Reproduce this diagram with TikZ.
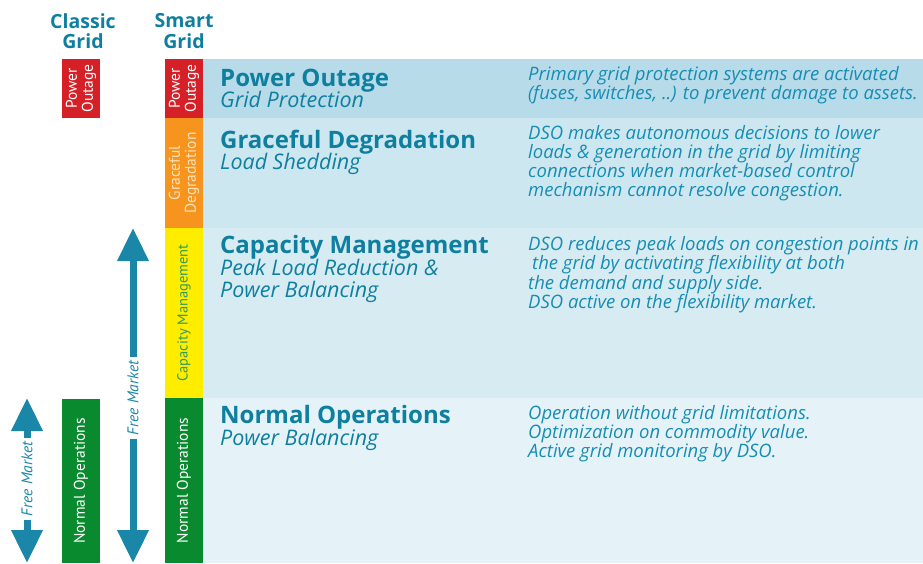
\documentclass[tikz,border=0pt]{standalone}
\usepackage{fontspec}
\setmainfont{Open Sans}
\newfontfamily\narrowfont{PT Sans}
\usetikzlibrary{arrows.meta}

\definecolor{gridred}{HTML}{D52027}
\definecolor{gridorange}{HTML}{F7941D}
\definecolor{gridyellow}{HTML}{FFED00}
\definecolor{gridgreen}{HTML}{0A8A2E}
\definecolor{bandone}{HTML}{B7DBE9}
\definecolor{bandtwo}{HTML}{CDE7F0}
\definecolor{bandthree}{HTML}{D7EBF2}
\definecolor{bandfour}{HTML}{E5F3F9}
\definecolor{gridteal}{HTML}{0E7F9F}
\definecolor{descteal}{HTML}{168DB3}
\definecolor{arrowteal}{HTML}{1A86A8}
\definecolor{peach}{HTML}{FDE3BF}
\definecolor{capgreen}{HTML}{2F9A5A}

\begin{document}
\begin{tikzpicture}[
        x=1pt, y=-1pt,
        colhead/.style={font=\bfseries\fontsize{19.5}{20.5}\selectfont, text=gridteal, align=center, inner sep=0pt},
        levelbar/.style={rotate=90, minimum height=38pt, inner sep=0pt, align=center,
            font=\narrowfont\fontsize{15.5}{16}\selectfont, text=white},
        band/.style={minimum width=720pt, inner sep=0pt, anchor=north west},
        leveltitle/.style={font=\bfseries\fontsize{24}{26}\selectfont, text=gridteal, anchor=base west, inner sep=0pt},
        subtitle/.style={font=\itshape\fontsize{21.5}{22}\selectfont, text=gridteal, anchor=base west, inner sep=0pt},
        desc/.style={font=\itshape\fontsize{18.5}{18.5}\selectfont, text=descteal, anchor=north west,
            inner sep=0pt, align=left},
        market/.style={rotate=90, font=\narrowfont\itshape\fontsize{15.5}{16}\selectfont, text=arrowteal, inner sep=0pt},
        bigarrow/.style={draw=arrowteal, line width=7pt, shorten <=4pt, -{Triangle[width=30pt, length=33pt]}}
    ]
        \useasboundingbox (0,0) rectangle (923,563);

        % column heads
        \node[colhead] (classic) at (83,31) {Classic\\Grid};
        \node[colhead] (smart) at (184,31) {Smart\\Grid};

        % bands
        \node[band, fill=bandone, minimum height=59pt] (b1) at (203,59) {};
        \node[band, fill=bandtwo, minimum height=110pt] (b2) at (203,118) {};
        \node[band, fill=bandthree, minimum height=170pt] (b3) at (203,228) {};
        \node[band, fill=bandfour, minimum height=165pt] (b4) at (203,398) {};

        % classic grid column
        \node[levelbar, fill=gridred, minimum width=59pt] (cpo) at (81,88.5) {Power\\Outage};
        \node[levelbar, fill=gridgreen, minimum width=164pt] (cno) at (81,481) {Normal Operations};

        % smart grid column
        \node[levelbar, fill=gridred, minimum width=59pt] (spo) at (184,88.5) {Power\\Outage};
        \node[levelbar, fill=gridorange, minimum width=110pt, text=peach] (sgd) at (184,173) {Graceful\\Degradation};
        \node[levelbar, fill=gridyellow, minimum width=170pt, text=capgreen, font=\narrowfont\fontsize{14.5}{15}\selectfont] (scm) at (184,313) {Capacity Management};
        \node[levelbar, fill=gridgreen, minimum width=165pt] (sno) at (184,480.5) {Normal Operations};

        % free market arrows
        \coordinate (fm1top) at (27,398);
        \coordinate (fm1bot) at (27,563);
        \node[market] (fm1) at (27,479) {Free Market};
        \draw[bigarrow] (fm1.east) -- (fm1top);
        \draw[bigarrow] (fm1.west) -- (fm1bot);

        \coordinate (fm2top) at (133,228);
        \coordinate (fm2bot) at (133,563);
        \node[market] (fm2) at (133,398) {Free Market};
        \draw[bigarrow] (fm2.east) -- (fm2top);
        \draw[bigarrow] (fm2.west) -- (fm2bot);

        % power outage
        \node[leveltitle] (t1) at (220,86) {Power Outage};
        \node[subtitle] (s1) at (220,107) {Grid Protection};
        \node[desc] (d1) at (528,66) {Primary grid protection systems are activated\\(fuses, switches, ..) to prevent damage to assets.};

        % graceful degradation
        \node[leveltitle] (t2) at (220,148) {Graceful Degradation};
        \node[subtitle] (s2) at (220,169) {Load Shedding};
        \node[desc, font=\itshape\fontsize{18.5}{19}\selectfont] (d2) at (528,125) {DSO makes autonomous decisions to lower\\loads \& generation in the grid by limiting\\connections when market-based control\\mechanism cannot resolve congestion.};

        % capacity management
        \node[leveltitle] (t3) at (220,253) {Capacity Management};
        \node[subtitle] (s3) at (220,275) {Peak Load Reduction \&};
        \node[subtitle] (s3b) at (220,297) {Power Balancing};
        \node[desc, font=\itshape\fontsize{18.5}{17.8}\selectfont] (d3) at (528,236) {DSO reduces peak loads on congestion points in\\\hspace{4pt}the grid by activating flexibility at both\\the demand and supply side.\\DSO active on the flexibility market.};

        % normal operations
        \node[leveltitle] (t4) at (220,423) {Normal Operations};
        \node[subtitle] (s4) at (220,445) {Power Balancing};
        \node[desc, font=\itshape\fontsize{18.5}{19}\selectfont] (d4) at (528,405) {Operation without grid limitations.\\Optimization on commodity value.\\Active grid monitoring by DSO.};
    \end{tikzpicture}
\end{document}
